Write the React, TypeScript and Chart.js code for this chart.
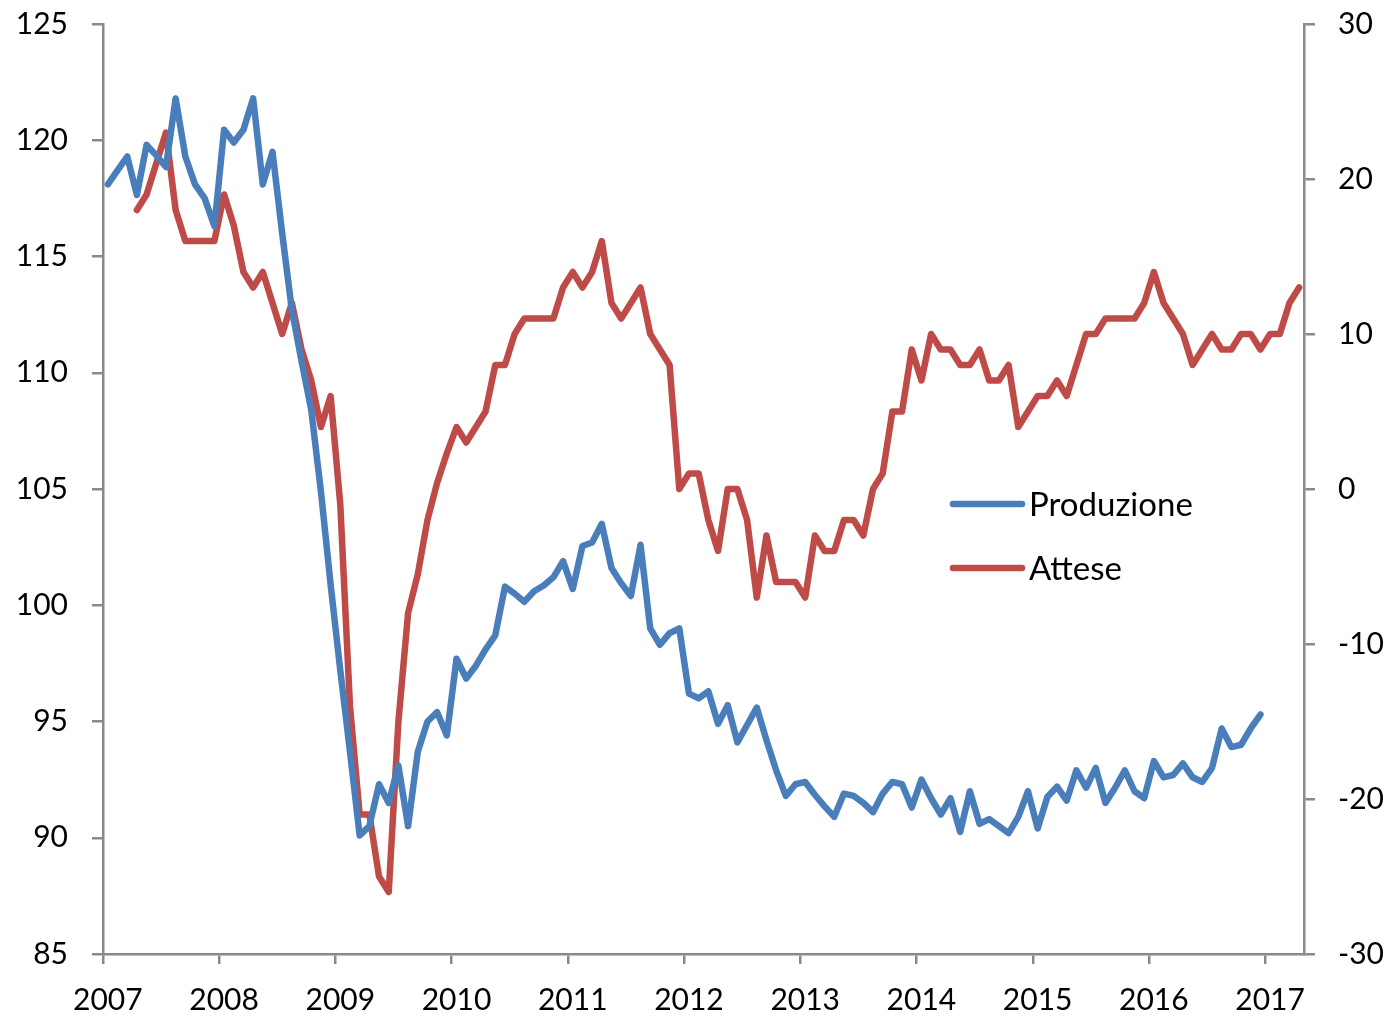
import { useEffect, useRef } from 'react';
import { Chart, registerables } from 'chart.js';

Chart.register(...registerables);

// Monthly categories: Jan 2007 (index 0) .. Apr 2017 (index 123)
const yearLabels = ['2007', '2008', '2009', '2010', '2011', '2012', '2013', '2014', '2015', '2016', '2017'];
const monthsPerYear = 12;
const monthCount = 124;

// Produzione (left axis), Jan 2007 .. Dec 2016
const produzione: number[] = [
  118.1, 118.7, 119.3, 117.65, 119.8, 119.35, 118.85, 121.8, 119.3, 118.1, 117.5, 116.3,
  120.45, 119.9, 120.45, 121.8, 118.1, 119.5, 116.0, 112.7, 110.5, 108.4, 104.9, 100.9,
  97.2, 93.7, 90.1, 90.5, 92.3, 91.5, 93.1, 90.5, 93.7, 95.0, 95.4, 94.4,
  97.7, 96.85, 97.4, 98.1, 98.7, 100.8, 100.5, 100.15, 100.6, 100.85, 101.2, 101.9,
  100.7, 102.55, 102.7, 103.5, 101.6, 100.95, 100.4, 102.6, 99.0, 98.3, 98.8, 99.0,
  96.2, 96.0, 96.3, 94.9, 95.7, 94.1, 94.85, 95.6, 94.2, 92.9, 91.8, 92.3,
  92.4, 91.85, 91.35, 90.9, 91.9, 91.8, 91.5, 91.1, 91.9, 92.4, 92.3, 91.3,
  92.5, 91.7, 91.0, 91.7, 90.25, 92.0, 90.6, 90.8, 90.5, 90.2, 90.9, 92.0,
  90.4, 91.75, 92.2, 91.6, 92.9, 92.15, 93.0, 91.5, 92.15, 92.9, 92.0, 91.7,
  93.3, 92.6, 92.7, 93.2, 92.6, 92.4, 93.0, 94.7, 93.9, 94.0, 94.7, 95.3,
];

// Attese (right axis), Jan 2007 .. Apr 2017
const attese: (number | null)[] = [
  null, null, null, 18, 19, 21, 23, 18, 16, 16, 16, 16,
  19, 17, 14, 13, 14, 12, 10, 12, 9, 7, 4, 6,
  -1, -14, -21, -21, -25, -26, -15, -8, -5.5, -2, 0.4, 2.3,
  4, 3, 4, 5, 8, 8, 10, 11, 11, 11, 11, 13,
  14, 13, 14, 16, 12, 11, 12, 13, 10, 9, 8, 0,
  1, 1, -2, -4, 0, 0, -2, -7, -3, -6, -6, -6,
  -7, -3, -4, -4, -2, -2, -3, 0, 1, 5, 5, 9,
  7, 10, 9, 9, 8, 8, 9, 7, 7, 8, 4, 5,
  6, 6, 7, 6, 8, 10, 10, 11, 11, 11, 11, 12,
  14, 12, 11, 10, 8, 9, 10, 9, 9, 10, 10, 9,
  10, 10, 12, 13,
];

const leftAxisMin = 85;
const leftAxisMax = 125;
const leftAxisStep = 5;
const rightAxisMin = -30;
const rightAxisMax = 30;
const rightAxisStep = 10;
const legendLabels = ['Produzione', 'Attese'];

const BLUE = '#4a7ebb';
const RED = '#be4b48';
const AXIS = '#898989';
const FONT_FAMILY = 'Lato';
const FONT_SIZE = 30;
const LEGEND_FONT_SIZE = 33;

export default function App() {
  const canvasRef = useRef<HTMLCanvasElement>(null);

  useEffect(() => {
    if (!canvasRef.current) return;

    const legendPlugin = {
      id: 'insideLegend',
      afterDraw(chart: any) {
        const ctx = chart.ctx as CanvasRenderingContext2D;
        const items = [
          { label: legendLabels[0], color: BLUE, y: 504, base: 516 },
          { label: legendLabels[1], color: RED, y: 568, base: 580 },
        ];
        ctx.save();
        for (const it of items) {
          ctx.strokeStyle = it.color;
          ctx.lineWidth = 6.5;
          ctx.lineCap = 'round';
          ctx.beginPath();
          ctx.moveTo(953, it.y);
          ctx.lineTo(1022, it.y);
          ctx.stroke();
          ctx.fillStyle = '#000';
          ctx.font = `${LEGEND_FONT_SIZE}px ${FONT_FAMILY}`;
          ctx.textAlign = 'left';
          ctx.textBaseline = 'alphabetic';
          ctx.fillText(it.label, 1029, it.base);
        }
        ctx.restore();
      },
    };

    const produzionePoints = produzione.map((v, i) => ({ x: i, y: v }));
    const attesePoints = attese
      .map((v, i) => ({ x: i, y: v }))
      .filter((p) => p.y !== null);

    const tickFont = { family: FONT_FAMILY, size: FONT_SIZE };

    const fitVertical = (width: number) => (scale: any) => {
      scale.width = width;
      scale.paddingTop = 0;
      scale.paddingBottom = 0;
    };

    const chart = new Chart(canvasRef.current, {
      type: 'line',
      data: {
        datasets: [
          {
            label: legendLabels[0],
            data: produzionePoints,
            yAxisID: 'y',
            borderColor: BLUE,
            backgroundColor: BLUE,
            borderWidth: 6.5,
            pointRadius: 0,
            tension: 0,
            borderJoinStyle: 'round',
            borderCapStyle: 'round',
          },
          {
            label: legendLabels[1],
            data: attesePoints as any,
            yAxisID: 'y1',
            borderColor: RED,
            backgroundColor: RED,
            borderWidth: 6.5,
            pointRadius: 0,
            tension: 0,
            borderJoinStyle: 'round',
            borderCapStyle: 'round',
          },
        ],
      },
      options: {
        animation: false,
        responsive: false,
        maintainAspectRatio: false,
        layout: { padding: { top: 24, left: 0, right: 0, bottom: 0 } },
        plugins: {
          legend: { display: false },
          tooltip: { enabled: false },
        },
        scales: {
          x: {
            type: 'linear',
            min: -0.5,
            max: monthCount - 0.5,
            afterBuildTicks: (scale: any) => {
              scale.ticks = yearLabels.map((_, k) => ({ value: -0.5 + monthsPerYear * k }));
            },
            afterFit: (scale: any) => {
              scale.height = 62;
            },
            ticks: {
              autoSkip: false,
              maxRotation: 0,
              minRotation: 0,
              labelOffset: 4.84,
              padding: 18,
              color: '#000',
              font: tickFont,
              callback: (value: any) => yearLabels[Math.round((Number(value) + 0.5) / monthsPerYear)] ?? '',
            },
            grid: { drawOnChartArea: false, drawTicks: true, tickLength: 10, color: AXIS, lineWidth: 2.5 },
            border: { display: true, color: AXIS, width: 2.5 },
          },
          y: {
            position: 'left',
            min: leftAxisMin,
            max: leftAxisMax,
            afterFit: fitVertical(103),
            ticks: { stepSize: leftAxisStep, padding: 24, color: '#000', font: tickFont },
            grid: { drawOnChartArea: false, drawTicks: true, tickLength: 11, color: AXIS, lineWidth: 2.5 },
            border: { display: true, color: AXIS, width: 2.5 },
          },
          y1: {
            position: 'right',
            min: rightAxisMin,
            max: rightAxisMax,
            afterFit: fitVertical(84),
            ticks: { stepSize: rightAxisStep, padding: 23, color: '#000', font: tickFont },
            grid: { drawOnChartArea: false, drawTicks: true, tickLength: 11, color: AXIS, lineWidth: 2.5 },
            border: { display: true, color: AXIS, width: 2.5 },
          },
        },
      },
      plugins: [legendPlugin],
    } as any);

    return () => chart.destroy();
  }, []);

  return (
    <div style={{ position: 'absolute', left: 0, top: 0, width: 1388, height: 1016, background: '#fff' }}>
      <canvas ref={canvasRef} width={1388} height={1016} style={{ width: 1388, height: 1016, display: 'block' }} />
    </div>
  );
}
